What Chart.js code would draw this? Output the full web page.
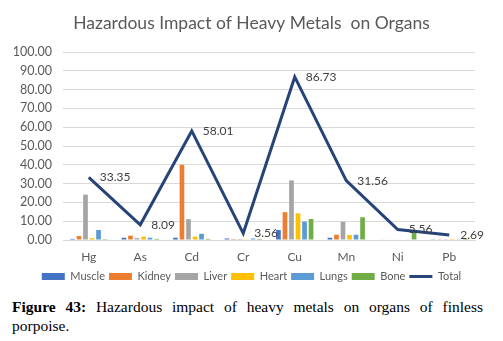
<!DOCTYPE html>
<html>
<head>
<meta charset="utf-8">
<script src="https://cdn.jsdelivr.net/npm/chart.js@4"></script>
<style>
  html,body{margin:0;padding:0;background:#fff;}
  #wrap{position:absolute;left:0;top:0;width:503px;height:296px;}
  #cap{position:absolute;left:12px;top:297px;width:471px;font-family:"Liberation Serif","Times New Roman",serif;font-size:15.5px;line-height:19px;text-align:justify;color:#000;}
</style>
</head>
<body>
<div id="wrap"><canvas id="c" width="503" height="296"></canvas></div>
<div id="cap"><b>Figure 43:</b> Hazardous impact of heavy metals on organs of finless porpoise.</div>
<script>
const categories = ["Hg","As","Cd","Cr","Cu","Mn","Ni","Pb"];
const muscle = [0.6, 1.2, 1.2, 0.8, 5.3, 1.2, 0.3, 0.4];
const kidney = [2.1, 2.3, 40.0, 0.5, 14.8, 2.8, 0.3, 0.4];
const liver  = [24.1, 1.0, 11.1, 0.5, 31.7, 9.7, 0.3, 0.4];
const heart  = [1.0, 1.8, 1.8, 0.4, 14.2, 2.7, 0.3, 0.5];
const lungs  = [5.3, 1.2, 3.3, 0.8, 9.8, 2.8, 0.3, 0.4];
const bone   = [0.5, 0.6, 0.6, 0.56, 11.2, 12.1, 4.1, 0.6];
const total  = [33.35, 8.09, 58.01, 3.56, 86.73, 31.56, 5.56, 2.69];
const yTicks = [0,10,20,30,40,50,60,70,80,90,100];

const gray = "#595959";
const lineColor = "#264478";
const font = "Lato";

const labelPlugin = {
  id: "totLabels",
  afterDatasetsDraw(chart){
    const ctx = chart.ctx;
    const meta = chart.getDatasetMeta(6);
    ctx.save();
    ctx.font = "12px " + font;
    ctx.fillStyle = "#404040";
    ctx.textAlign = "left";
    ctx.textBaseline = "middle";
    meta.data.forEach((pt,i)=>{
      ctx.fillText(total[i].toFixed(2), pt.x + 11, pt.y);
    });
    ctx.restore();
  }
};

const mk = (label, data, color) => ({type:"bar", label, data, backgroundColor: color, borderWidth:0, categoryPercentage:0.76, barPercentage:0.72, order:1});

new Chart(document.getElementById("c"), {
  data: {
    labels: categories,
    datasets: [
      mk("Muscle", muscle, "#4472C4"),
      mk("Kidney", kidney, "#ED7D31"),
      mk("Liver", liver, "#A5A5A5"),
      mk("Heart", heart, "#FFC000"),
      mk("Lungs", lungs, "#5B9BD5"),
      mk("Bone", bone, "#70AD47"),
      {type:"line", label:"Total", data: total, borderColor: lineColor, backgroundColor: lineColor, borderWidth:3, pointRadius:0, tension:0, order:0}
    ]
  },
  options: {
    responsive:false,
    animation:false,
    layout:{padding:{left:0,right:0,top:0,bottom:4}},
    plugins:{
      tooltip:{enabled:false},
      title:{display:true, text:"Hazardous Impact of Heavy Metals  on Organs", color:gray, font:{family:font, size:17.5, weight:"normal"}, padding:{top:13,bottom:18}},
      legend:{
        position:"bottom",
        labels:{
          color:gray, font:{family:font, size:11}, usePointStyle:true, pointStyleWidth:23, boxHeight:7, padding:4,
          generateLabels(chart){
            const items = Chart.defaults.plugins.legend.labels.generateLabels(chart);
            items.forEach(it=>{
              if(it.datasetIndex===6){ it.pointStyle="line"; it.lineWidth=3; it.strokeStyle=lineColor; }
              else { it.pointStyle="rect"; it.lineWidth=0; }
            });
            return items.sort((a,b)=>a.datasetIndex-b.datasetIndex);
          }
        }
      }
    },
    scales:{
      x:{
        grid:{display:false, drawTicks:false, tickLength:0},
        border:{color:"#d9d9d9"},
        ticks:{color:gray, font:{family:font, size:12}, padding:10},
        afterFit(s){ s.height = 27; }
      },
      y:{
        min:0, max:100,
        afterBuildTicks(s){ s.ticks = yTicks.map(v=>({value:v})); },
        grid:{color:"#d9d9d9", drawTicks:false},
        border:{display:false},
        ticks:{color:gray, font:{family:font, size:12.5}, padding:11, autoSkip:false, callback:(v)=>Number(v).toFixed(2)},
        afterFit(s){ s.width = 63; }
      },
      yr:{
        position:"right", display:true, min:0, max:100,
        grid:{display:false, drawTicks:false},
        border:{display:false},
        ticks:{display:false},
        afterFit(s){ s.width = 28; }
      }
    }
  },
  plugins:[labelPlugin]
});
</script>
</body>
</html>
